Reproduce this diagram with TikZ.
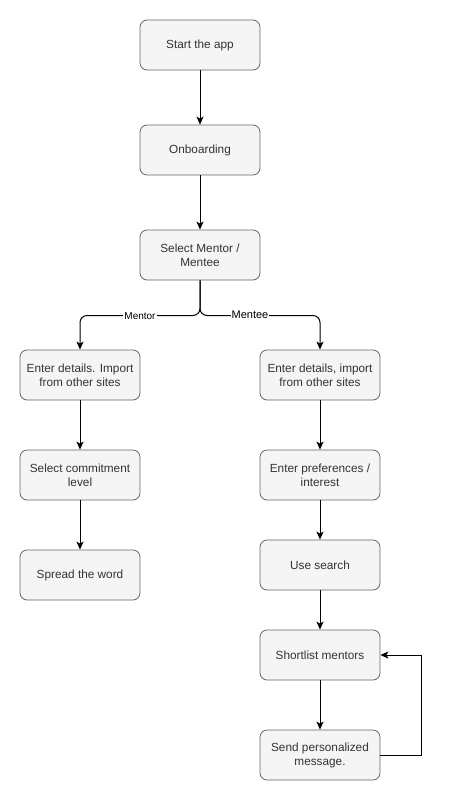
\documentclass[tikz,border=0pt]{standalone}
\usepackage{fontspec}
\setmainfont{Liberation Sans}
\usetikzlibrary{arrows.meta}
\definecolor{boxfill}{HTML}{F5F5F5}
\definecolor{boxline}{HTML}{666666}
\definecolor{txt}{HTML}{333333}
\tikzset{
  stepbox/.style={draw=boxline, fill=boxfill, rounded corners=7pt, minimum width=120pt, minimum height=50pt, align=center, font=\fontsize{11.8pt}{14pt}\selectfont, text=txt, line width=0.8pt},
  conn/.style={draw=black, line width=1pt, -{Stealth[length=8pt,width=7pt,inset=2pt]}},
  lbl/.style={fill=white, inner sep=1pt, text=black}
}
\begin{document}
\begin{tikzpicture}[x=1pt,y=-1pt]
\useasboundingbox (0,0) rectangle (449,801);
\node[stepbox] (start) at (200,45) {Start the app};
\node[stepbox] (onb) at (200,150) {Onboarding};
\node[stepbox] (sel) at (200,255) {Select Mentor /\\Mentee};
\node[stepbox] (l1) at (80,375) {Enter details. Import\\from other sites};
\node[stepbox] (l2) at (80,475) {Select commitment\\level};
\node[stepbox] (l3) at (80,575) {Spread the word};
\node[stepbox] (r1) at (320,375) {Enter details, import\\from other sites};
\node[stepbox] (r2) at (320,475) {Enter preferences /\\interest};
\node[stepbox] (r3) at (320,565) {Use search};
\node[stepbox] (r4) at (320,655) {Shortlist mentors};
\node[stepbox] (r5) at (320,755) {Send personalized\\message.};
\coordinate (split) at (200,315.5);
\coordinate (loop) at (421,655);
\draw[conn] (start) -- (onb);
\draw[conn] (onb) -- (sel);
\draw[conn, rounded corners=7pt] (sel.south) -- (split) -| (l1.north);
\draw[conn, rounded corners=7pt] (sel.south) -- (split) -| (r1.north);
\node[lbl, font=\fontsize{10pt}{12pt}\selectfont] (mentorlbl) at (140,316) {Mentor};
\node[lbl, font=\fontsize{11pt}{13pt}\selectfont] (menteelbl) at (250,314.5) {Mentee};
\draw[conn] (l1) -- (l2);
\draw[conn] (l2) -- (l3);
\draw[conn] (r1) -- (r2);
\draw[conn] (r2) -- (r3);
\draw[conn] (r3) -- (r4);
\draw[conn] (r4) -- (r5);
\draw[conn] (r5.east) -| (loop) -- (r4.east);
\end{tikzpicture}
\end{document}
